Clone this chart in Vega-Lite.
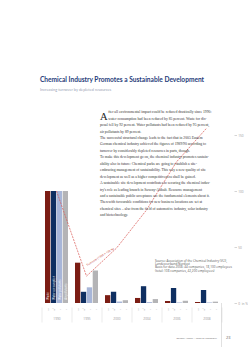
{
  "$schema": "https://vega.github.io/schema/vega-lite/v6.json",
  "width": 180,
  "height": 168,
  "autosize": {"type": "none"},
  "padding": {"left": 41.5, "top": 135, "right": 26.5, "bottom": 44},
  "background": "#ffffff",
  "title": {
    "text": "\u00a0\u00a0\u00a0\u00a0\u00a0Chemical Industry Promotes a Sustainable Development",
    "subtitle": "Increasing turnover by depleted resources",
    "anchor": "start",
    "frame": "group",
    "dx": -1.5,
    "offset": 18,
    "font": "Lato",
    "fontSize": 6.6,
    "fontWeight": "bold",
    "color": "#1f3c7a",
    "subtitleFont": "Lato",
    "subtitleFontSize": 3.9,
    "subtitleColor": "#98a2b5",
    "subtitlePadding": 5
  },
  "config": {"view": {"stroke": null}},
  "data": {
    "values": [
      {"year": "1990", "series": "Waste", "value": 100, "unit": "kt"},
      {"year": "1990", "series": "Water consumption", "value": 100, "unit": "m³"},
      {"year": "1990", "series": "Water pollutants", "value": 100, "unit": "t"},
      {"year": "1990", "series": "Air pollutants", "value": 100, "unit": "t"},
      {"year": "1995", "series": "Waste", "value": 36, "unit": "kt"},
      {"year": "1995", "series": "Water consumption", "value": 10, "unit": "m³"},
      {"year": "1995", "series": "Water pollutants", "value": 14, "unit": "t"},
      {"year": "1995", "series": "Air pollutants", "value": 29, "unit": "t"},
      {"year": "2000", "series": "Waste", "value": 7, "unit": "kt"},
      {"year": "2000", "series": "Water consumption", "value": 10, "unit": "m³"},
      {"year": "2000", "series": "Water pollutants", "value": 1.3, "unit": "t"},
      {"year": "2000", "series": "Air pollutants", "value": 2.5, "unit": "t"},
      {"year": "2004", "series": "Waste", "value": 4.5, "unit": "kt"},
      {"year": "2004", "series": "Water consumption", "value": 15, "unit": "m³"},
      {"year": "2004", "series": "Water pollutants", "value": 0.8, "unit": "t"},
      {"year": "2004", "series": "Air pollutants", "value": 3.5, "unit": "t"},
      {"year": "2006", "series": "Waste", "value": 1.8, "unit": "kt"},
      {"year": "2006", "series": "Water consumption", "value": 13.4, "unit": "m³"},
      {"year": "2006", "series": "Water pollutants", "value": 0.5, "unit": "t"},
      {"year": "2006", "series": "Air pollutants", "value": 2, "unit": "t"},
      {"year": "2008", "series": "Waste", "value": 0.9, "unit": "kt"},
      {"year": "2008", "series": "Water consumption", "value": 11.6, "unit": "m³"},
      {"year": "2008", "series": "Water pollutants", "value": 0.5, "unit": "t"},
      {"year": "2008", "series": "Air pollutants", "value": 1.2, "unit": "t"}
    ]
  },
  "layer": [
    {
      "mark": {"type": "bar"},
      "encoding": {
        "x": {
          "field": "year",
          "type": "ordinal",
          "scale": {"paddingInner": 0, "paddingOuter": 0},
          "axis": {
            "title": null,
            "orient": "bottom",
            "domain": false,
            "tickBand": "extent",
            "tickSize": 15,
            "tickColor": "#dddddd",
            "tickWidth": 0.6,
            "offset": 4,
            "labelFont": "Open Sans",
            "labelFontSize": 3.2,
            "labelColor": "#999999",
            "labelPadding": -5.5,
            "labelAngle": 0
          }
        },
        "xOffset": {
          "field": "series",
          "type": "nominal",
          "sort": ["Waste", "Water consumption", "Water pollutants", "Air pollutants"],
          "scale": {"paddingInner": 0.1, "paddingOuter": 0.59}
        },
        "y": {
          "field": "value",
          "type": "quantitative",
          "scale": {"domain": [0, 150], "nice": false},
          "axis": {
            "orient": "right",
            "title": null,
            "values": [0, 25, 50, 75, 100, 125, 150],
            "domain": false,
            "grid": false,
            "tickSize": 2.5,
            "tickColor": "#aaaaaa",
            "tickWidth": 0.5,
            "offset": 12.5,
            "labelFont": "Open Sans",
            "labelFontSize": 3.2,
            "labelColor": "#999999",
            "labelPadding": 1.2,
            "labelOverlap": false,
            "labelBound": false,
            "labelExpr": "datum.value == 0 ? '0\u00a0\u00a0in %' : datum.label"
          }
        },
        "color": {
          "field": "series",
          "type": "nominal",
          "scale": {
            "domain": ["Waste", "Water consumption", "Water pollutants", "Air pollutants"],
            "range": ["#7b1d14", "#0f2f61", "#a8b6d8", "#b4b4b6"]
          },
          "legend": null
        }
      }
    },
    {
      "mark": {"type": "text", "fontSize": 2.4, "color": "#aaaaaa", "angle": -90, "align": "center", "baseline": "middle", "font": "Open Sans"},
      "encoding": {
        "x": {"field": "year", "type": "ordinal"},
        "xOffset": {"field": "series", "type": "nominal", "sort": ["Waste", "Water consumption", "Water pollutants", "Air pollutants"]},
        "y": {"datum": -5.8},
        "text": {"field": "unit"}
      }
    },
    {
      "transform": [{"filter": "datum.year == '1990'"}],
      "mark": {"type": "text", "fontSize": 2.6, "color": "#ffffff", "angle": -90, "align": "left", "baseline": "middle", "font": "Open Sans"},
      "encoding": {
        "x": {"field": "year", "type": "ordinal"},
        "xOffset": {"field": "series", "type": "nominal", "sort": ["Waste", "Water consumption", "Water pollutants", "Air pollutants"]},
        "y": {"datum": 3},
        "text": {"field": "series"}
      }
    },
    {
      "data": {
        "values": [
          {"year": "1990", "turnover": 100},
          {"year": "1995", "turnover": 24},
          {"year": "2000", "turnover": 49},
          {"year": "2004", "turnover": 83},
          {"year": "2006", "turnover": 126},
          {"year": "2008", "turnover": 156}
        ]
      },
      "mark": {"type": "line", "color": "#d9534f", "strokeWidth": 0.7, "strokeDash": [2, 1]},
      "encoding": {
        "x": {"field": "year", "type": "ordinal"},
        "y": {"field": "turnover", "type": "quantitative"}
      }
    },
    {
      "data": {"values": [{"label": "Turnover (1990 = 100 %)"}]},
      "mark": {"type": "text", "fontSize": 2.8, "color": "#c0392b", "angle": -32, "align": "center", "baseline": "middle", "font": "Open Sans", "dx": -1.5},
      "encoding": {
        "x": {"datum": "1995", "type": "ordinal", "bandPosition": 1},
        "y": {"datum": 42},
        "text": {"field": "label"}
      }
    },
    {
      "data": {
        "values": [
          {"lines": [
            "fter all environmental impact could be reduced drastically since 1990:",
            "water consumption had been reduced by 85 percent. Waste for dis-"
          ]}
        ]
      },
      "mark": {"type": "text", "font": "Liberation Serif", "fontSize": 3.7, "lineHeight": 6.44, "color": "#333333", "align": "left", "baseline": "alphabetic", "dx": 6.8},
      "encoding": {
        "x": {"datum": "2000", "type": "ordinal", "bandPosition": 0},
        "y": {"datum": 169.4},
        "text": {"field": "lines"}
      }
    },
    {
      "data": {
        "values": [
          {"lines": [
            "posal fell by 92 percent. Water pollutants had been reduced by 95 percent,",
            "air pollutants by 89 percent.",
            "The successful structural change leads to the fact that in 2005 Eastern",
            "German chemical industry achieved the figures of 1989/90 according to",
            "turnover by considerably depleted resources in parts, though.",
            "To make this development go on, the chemical industry promotes sustain-",
            "ability also in future: Chemical parks are going to establish a site-",
            "embracing management of sustainability. This way a new quality of site",
            "development as well as a higher competitiveness shall be gained.",
            "A sustainable site development contributes to securing the chemical indus-",
            "try's role as leading branch in Saxony-Anhalt. Resource management",
            "and a sustainable public acceptance are the fundamental elements about it.",
            "Therewith favourable conditions for new business locations are set at",
            "chemical sites – also from the field of automotive industry, solar industry",
            "and biotechnology."
          ]}
        ]
      },
      "mark": {"type": "text", "font": "Liberation Serif", "fontSize": 3.7, "lineHeight": 6.44, "color": "#333333", "align": "left", "baseline": "alphabetic", "dx": -1.5},
      "encoding": {
        "x": {"datum": "2000", "type": "ordinal", "bandPosition": 0},
        "y": {"datum": 157.9},
        "text": {"field": "lines"}
      }
    },
    {
      "data": {"values": [{"cap": "A"}]},
      "mark": {"type": "text", "font": "Liberation Serif", "fontSize": 10.5, "color": "#222222", "align": "left", "baseline": "alphabetic", "dx": -1.5},
      "encoding": {
        "x": {"datum": "2000", "type": "ordinal", "bandPosition": 0},
        "y": {"datum": 163.4},
        "text": {"field": "cap"}
      }
    },
    {
      "data": {
        "values": [
          {"lines": [
            "Source: Association of the Chemical Industry (VCI),",
            "Landesverband Nordost",
            "Basis for data 2008: 44 companies, 18,100 employees",
            "(total: 108 companies, 42,200 employees)"
          ]}
        ]
      },
      "mark": {"type": "text", "font": "Open Sans", "fontSize": 3.1, "lineHeight": 3.2, "color": "#555555", "align": "left", "baseline": "alphabetic", "dx": -6.5},
      "encoding": {
        "x": {"datum": "2006", "type": "ordinal", "bandPosition": 0},
        "y": {"datum": 36.6},
        "text": {"field": "lines"}
      }
    },
    {
      "data": {"values": [{"footer": "Saxony-Anhalt – Land of Chemistry"}]},
      "mark": {"type": "text", "font": "Open Sans", "fontSize": 2.5, "color": "#666666", "align": "left", "baseline": "middle"},
      "encoding": {
        "x": {"datum": "2006", "type": "ordinal", "bandPosition": 0.5},
        "y": {"datum": -31.2},
        "text": {"field": "footer"}
      }
    },
    {
      "data": {"values": [{"page": "23"}]},
      "mark": {"type": "text", "font": "Open Sans", "fontSize": 4, "color": "#666666", "align": "left", "baseline": "middle", "dx": 4.5},
      "encoding": {
        "x": {"datum": "2008", "type": "ordinal", "bandPosition": 1},
        "y": {"datum": -31.2},
        "text": {"field": "page"}
      }
    },
    {
      "data": {"values": [{"from": 0, "to": -39.3}]},
      "mark": {"type": "rule", "color": "#cccccc", "strokeWidth": 0.6},
      "encoding": {
        "x": {"datum": "2008", "type": "ordinal", "bandPosition": 1},
        "y": {"field": "from", "type": "quantitative"},
        "y2": {"field": "to"}
      }
    }
  ]
}
